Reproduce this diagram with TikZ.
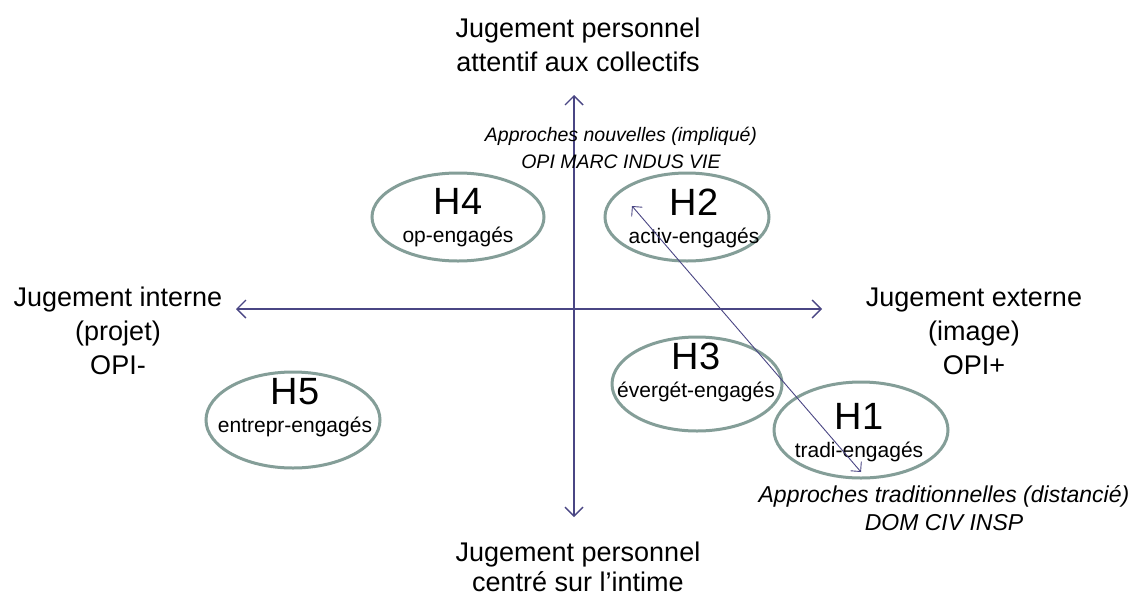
\documentclass[tikz,border=0pt]{standalone}
\usepackage{fontspec}
\setmainfont{Liberation Sans}
\usetikzlibrary{arrows.meta, shapes.geometric}

\definecolor{axiscol}{RGB}{74,70,132}
\definecolor{hypcol}{RGB}{132,158,152}

\tikzset{
  axis/.style={draw=axiscol, line width=1.4pt,
    {Straight Barb[length=9pt,width=18pt]}-{Straight Barb[length=9pt,width=18pt]}},
  trajline/.style={draw=axiscol, line width=0.9pt,
    {Straight Barb[length=7pt,width=14pt]}-{Straight Barb[length=7pt,width=14pt]}},
  hyp/.style={ellipse, draw=hypcol, line width=3pt, inner sep=0pt},
  hyptxt/.style={align=center, inner sep=0pt, font=\fontsize{21}{28}\selectfont},
  pole/.style={align=center, inner sep=0pt, font=\fontsize{27}{34}\selectfont},
  appr/.style={align=center, inner sep=0pt, font=\fontsize{20}{27}\selectfont\itshape}
}

\begin{document}
\begin{tikzpicture}[x=1pt, y=-1pt]
  \useasboundingbox[fill=white] (0,0) rectangle (1141,598);

  % axes
  \coordinate (left) at (236,309);
  \coordinate (right) at (822,309);
  \coordinate (top) at (574,95);
  \coordinate (bottom) at (574,517);
  \draw[axis] (left) -- (right);
  \draw[axis] (bottom) -- (top);

  % poles
  \node[pole] (ptop) at (578,45) {Jugement personnel\\attentif aux collectifs};
  \node[pole, font=\fontsize{27}{30}\selectfont] (pbottom) at (578,567)
    {Jugement personnel\\centré sur l’intime};
  \node[pole] (pleft) at (118,331) {Jugement interne\\(projet)\\OPI-};
  \node[pole] (pright) at (974,331) {Jugement externe\\(image)\\OPI+};

  % approches
  \node[appr, font=\fontsize{19.5}{27}\selectfont\itshape] (anew) at (621,148)
    {Approches nouvelles (impliqué)\\OPI MARC INDUS VIE};
  \node[appr, font=\fontsize{23}{28}\selectfont\itshape] (atrad) at (944,508)
    {Approches traditionnelles (distancié)\\DOM CIV INSP};

  % hypotheses
  \node[hyp, minimum width=172pt, minimum height=88pt] (h4) at (458,217) {};
  \node[hyp, minimum width=164pt, minimum height=88pt] (h2) at (687,217) {};
  \node[hyp, minimum width=170pt, minimum height=94pt] (h3) at (697,384) {};
  \node[hyp, minimum width=174pt, minimum height=96pt] (h1) at (861,430) {};
  \node[hyp, minimum width=174pt, minimum height=96pt] (h5) at (293,420) {};

  \node[hyptxt] (h4txt) at (458,218) {{\fontsize{38}{28}\selectfont H4}\\op-engagés};
  \node[hyptxt] (h2txt) at (694,218) {{\fontsize{38}{28}\selectfont H2}\\activ-engagés};
  \node[hyptxt] (h3txt) at (696,372) {{\fontsize{38}{28}\selectfont H3}\\évergét-engagés};
  \node[hyptxt] (h1txt) at (859,433) {{\fontsize{38}{28}\selectfont H1}\\tradi-engagés};
  \node[hyptxt] (h5txt) at (295,408) {{\fontsize{38}{28}\selectfont H5}\\entrepr-engagés};

  % trajectory H2 -- H1
  \coordinate (s2) at (632,206);
  \coordinate (s1) at (861,472);
  \draw[trajline] (s2) -- (s1);
\end{tikzpicture}
\end{document}
